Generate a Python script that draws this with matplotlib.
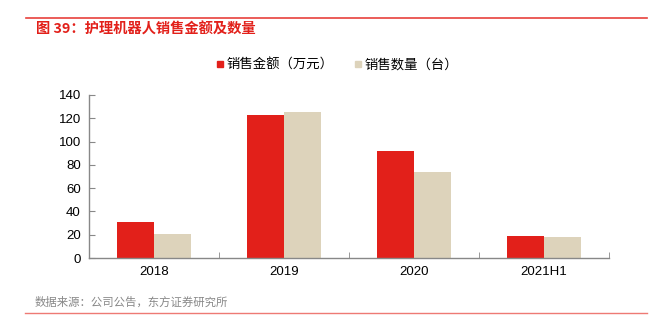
import matplotlib
matplotlib.use('Agg')
from matplotlib import pyplot as plt
from matplotlib.lines import Line2D
import numpy as np

plt.rcParams['font.family'] = ['Liberation Sans', 'Noto Sans CJK SC', 'DejaVu Sans']
cjk = ['Noto Sans CJK SC', 'DejaVu Sans']

# data
years = ['2018', '2019', '2020', '2021H1']
sales_amount = [31, 123, 91.5, 18.5]   # 销售金额（万元）
sales_volume = [21, 125, 74, 18]       # 销售数量（台）
yticks = [0, 20, 40, 60, 80, 100, 120, 140]

red = '#E2201A'
beige = '#DDD3BB'
grey = '#888888'

fig = plt.figure(figsize=(6.51, 3.31), dpi=100)
ax = fig.add_axes([0.137, 0.2205, 0.798, 0.4925])

x = np.arange(len(years))
w = 0.285
ax.bar(x - w / 2, sales_amount, w, color=red, edgecolor='none')
ax.bar(x + w / 2, sales_volume, w, color=beige, edgecolor='none')

ax.set_xlim(-0.5, len(years) - 0.5)
ax.set_ylim(0, 140)
ax.set_yticks(yticks)
ax.set_xticks(x)
ax.set_xticklabels(years)
ax.set_xticks(np.arange(-0.5, len(years)), minor=True)
ax.tick_params(axis='x', which='major', length=0, labelsize=9.5, pad=6)
ax.tick_params(axis='x', which='minor', direction='in', length=4, color=grey)
ax.tick_params(axis='y', direction='in', length=4, color=grey, labelsize=9.5, pad=6)
for s in ['top', 'right']:
    ax.spines[s].set_visible(False)
for s in ['left', 'bottom']:
    ax.spines[s].set_color(grey)
    ax.spines[s].set_linewidth(1)

# legend with small squares
handles = [Line2D([], [], marker='s', linestyle='none', color=red, markersize=5),
           Line2D([], [], marker='s', linestyle='none', color=beige, markersize=5)]
fig.legend(handles, ['销售金额（万元）', '销售数量（台）'], ncol=2, frameon=False,
           loc='center', bbox_to_anchor=(337 / 651, 1 - 65 / 331),
           prop={'family': cjk, 'size': 9.6}, handlelength=0.6,
           handletextpad=0.2, columnspacing=1.5)

# title and header line
fig.add_artist(Line2D([26 / 651, 647 / 651], [1 - 18 / 331, 1 - 18 / 331],
                      color='#E8413C', linewidth=1.2))
fig.text(36 / 651, 1 - 30 / 331, '图 39：护理机器人销售金额及数量', color=red,
         fontsize=10.3, fontweight='bold', va='center', ha='left', family=cjk)

# source and bottom line
fig.text(35 / 651, 1 - 302 / 331, '数据来源：公司公告，东方证券研究所', color=grey,
         fontsize=8.2, va='center', ha='left', family=cjk)
fig.add_artist(Line2D([25 / 651, 647 / 651], [1 - 313 / 331, 1 - 313 / 331],
                      color='#EE7A74', linewidth=1.0))

fig.savefig('out.png', dpi=100)
